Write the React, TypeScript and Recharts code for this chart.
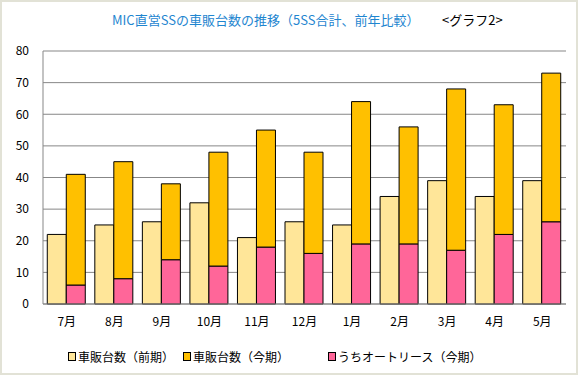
import { BarChart, Bar, XAxis, YAxis, CartesianGrid } from "recharts";

const months = ["7月", "8月", "9月", "10月", "11月", "12月", "1月", "2月", "3月", "4月", "5月"];
const salesPrev = [22, 25, 26, 32, 21, 26, 25, 34, 39, 34, 39];
const salesCurr = [41, 45, 38, 48, 55, 48, 64, 56, 68, 63, 73];
const leaseCurr = [6, 8, 14, 12, 18, 16, 19, 19, 17, 22, 26];
const yTicks = [0, 10, 20, 30, 40, 50, 60, 70, 80];

const data = months.map((m, i) => ({
  month: m,
  prev: salesPrev[i],
  lease: leaseCurr[i],
  // orange part sits on top of the lease part, so the stack reaches salesCurr
  rest: salesCurr[i] - leaseCurr[i],
}));

const font = '"Noto Sans CJK JP", "Noto Sans", sans-serif';

const legendItems = [
  { label: "車販台数（前期）", color: "#FFE699", x: 68 },
  { label: "車販台数（今期）", color: "#FFC000", x: 183 },
  { label: "うちオートリース（今期）", color: "#FF6699", x: 328 },
];

export default function App() {
  return (
    <div
      style={{
        position: "absolute",
        left: 0,
        top: 0,
        width: 578,
        height: 375,
        boxSizing: "border-box",
        border: "2px solid #e2e2d6",
        background: "#fff",
        fontFamily: font,
      }}
    >
      <div style={{ position: "absolute", left: 0, top: 0 }}>
        <BarChart
          width={574}
          height={371}
          data={data}
          margin={{ top: 49, right: 10, bottom: 37, left: 0 }}
          barGap={0}
          barCategoryGap="9%"
        >
          <CartesianGrid vertical={false} stroke="#878787" strokeWidth={1} />
          <XAxis
            dataKey="month"
            height={32}
            tickLine={false}
            tickSize={0}
            tickMargin={13}
            axisLine={{ stroke: "#878787" }}
            tick={{ fill: "#000", fontSize: 12, fontFamily: font }}
            interval={0}
          />
          <YAxis
            width={41}
            domain={[0, 80]}
            ticks={yTicks}
            tickLine={false}
            tickSize={0}
            tickMargin={14}
            axisLine={{ stroke: "#878787" }}
            tick={{ fill: "#000", fontSize: 12, fontFamily: font }}
          />
          <Bar dataKey="prev" stackId="p" fill="#FFE699" stroke="#000" strokeWidth={1} isAnimationActive={false} />
          <Bar dataKey="lease" stackId="c" fill="#FF6699" stroke="#000" strokeWidth={1} isAnimationActive={false} />
          <Bar dataKey="rest" stackId="c" fill="#FFC000" stroke="#000" strokeWidth={1} isAnimationActive={false} />
        </BarChart>
      </div>
      <div
        style={{
          position: "absolute",
          left: 110,
          top: 8,
          fontSize: 13,
          color: "#1F86D0",
          whiteSpace: "nowrap",
        }}
      >
        MIC直営SSの車販台数の推移（5SS合計、前年比較）
      </div>
      <div style={{ position: "absolute", left: 440, top: 8, fontSize: 13, color: "#000", whiteSpace: "nowrap" }}>
        &lt;グラフ2&gt;
      </div>
      {legendItems.map((it) => (
        <div
          key={it.label}
          style={{
            position: "absolute",
            left: it.x - 2,
            top: 346,
            display: "flex",
            alignItems: "center",
            fontSize: 12,
            whiteSpace: "nowrap",
          }}
        >
          <span
            style={{
              display: "inline-block",
              width: 6,
              height: 7,
              background: it.color,
              border: "1px solid #000",
              marginRight: 2,
            }}
          />
          {it.label}
        </div>
      ))}
    </div>
  );
}
